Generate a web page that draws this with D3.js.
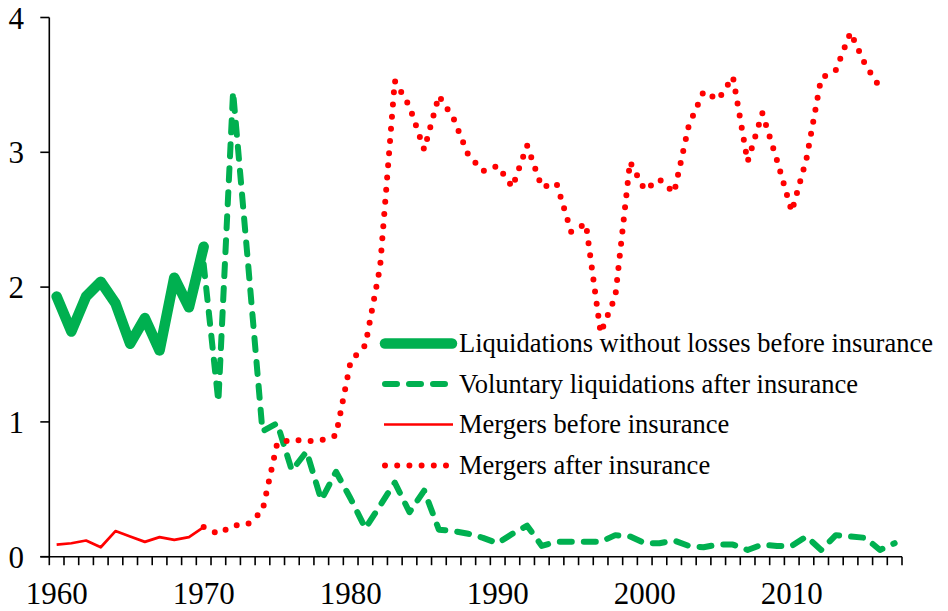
<!DOCTYPE html>
<html>
<head>
<meta charset="utf-8">
<script src="https://cdn.jsdelivr.net/npm/d3@7"></script>
<style>
  html, body { margin: 0; padding: 0; background: #fff; }
  svg { display: block; }
  text { font-family: "Liberation Serif", "Times New Roman", serif; fill: #000; }
</style>
</head>
<body>
<svg id="chart" width="948" height="611"></svg>
<script>
// ---- Data ----
const years = d3.range(1960, 2018); // category axis 1960..2017
const xTickLabels = [1960, 1970, 1980, 1990, 2000, 2010];
const yTickValues = [0, 1, 2, 3, 4];

const liqBeforeYears = d3.range(1960, 1971);
const liqBefore = [1.93, 1.67, 1.93, 2.04, 1.88, 1.58, 1.77, 1.53, 2.07, 1.85, 2.30];

const mergBeforeYears = d3.range(1960, 1971);
const mergBefore = [0.09, 0.10, 0.12, 0.07, 0.19, 0.15, 0.11, 0.145, 0.125, 0.145, 0.22];

const volLiqAfterYears = d3.range(1970, 2018);
const volLiqAfter = [2.17, 1.15, 3.45, 2.20, 0.93, 0.99, 0.64, 0.78, 0.42, 0.63,
                     0.43, 0.21, 0.38, 0.55, 0.33, 0.49, 0.20, 0.19, 0.17, 0.14,
                     0.10, 0.17, 0.23, 0.08, 0.11, 0.11, 0.11, 0.11, 0.16, 0.15,
                     0.10, 0.10, 0.12, 0.08, 0.07, 0.09, 0.09, 0.05, 0.09, 0.08,
                     0.08, 0.15, 0.05, 0.16, 0.15, 0.14, 0.05, 0.10];

const mergAfterYears = d3.range(1970, 2017);
const mergAfter = [0.22, 0.17, 0.23, 0.24, 0.34, 0.84, 0.87, 0.855, 0.865, 0.90,
                   1.45, 1.57, 2.15, 3.53, 3.34, 3.02, 3.42, 3.25, 2.98, 2.86,
                   2.90, 2.74, 3.05, 2.74, 2.77, 2.41, 2.47, 1.66, 1.93, 2.93,
                   2.72, 2.80, 2.70, 3.20, 3.45, 3.39, 3.56, 2.93, 3.29, 2.94,
                   2.56, 2.95, 3.55, 3.61, 3.89, 3.65, 3.48];

const seriesNames = [
  "Liquidations without losses before insurance",
  "Voluntary liquidations after insurance",
  "Mergers before insurance",
  "Mergers after insurance"
];

// ---- Styles ----
const GREEN = "#00B050", RED = "#FF0000";
const styles = [
  { color: GREEN, width: 10.5, dash: null, cap: "round" },
  { color: GREEN, width: 6, dash: "12,12", cap: "round" },
  { color: RED, width: 2.7, dash: null, cap: "butt" },
  { color: RED, width: 6, dash: "0,12.2", cap: "round" }
];

const svg = d3.select("#chart");
const W = 948, H = 611;
svg.append("rect").attr("width", W).attr("height", H).attr("fill", "#fff");

const x = d3.scaleBand().domain(years).range([49.3, 902]).padding(0);
const xc = yr => x(yr) + x.bandwidth() / 2;
const y = d3.scaleLinear().domain([0, 4]).range([556.7, 17.5]);

const line = d3.line().x(d => xc(d[0])).y(d => y(d[1]));

function drawSeries(yrs, vals, st) {
  const pts = yrs.map((yr, i) => [yr, vals[i]]);
  const p = svg.append("path")
    .attr("d", line(pts))
    .attr("fill", "none")
    .attr("stroke", st.color)
    .attr("stroke-width", st.width)
    .attr("stroke-linejoin", "round")
    .attr("stroke-linecap", st.cap);
  if (st.dash) p.attr("stroke-dasharray", st.dash);
}

// ---- Axes ----
const axisG = svg.append("g");
// y axis line
axisG.append("line")
  .attr("x1", x.range()[0]).attr("x2", x.range()[0])
  .attr("y1", y(4)).attr("y2", y(0))
  .attr("stroke", "#000").attr("stroke-width", 1.6);
// y ticks
yTickValues.forEach(v => {
  axisG.append("line")
    .attr("x1", x.range()[0] - 9).attr("x2", x.range()[0])
    .attr("y1", y(v)).attr("y2", y(v))
    .attr("stroke", "#000").attr("stroke-width", 1.6);
  axisG.append("text")
    .attr("x", 24).attr("y", y(v))
    .attr("dy", "0.36em")
    .attr("text-anchor", "end")
    .attr("font-size", 31)
    .text(v);
});
// x axis line
axisG.append("line")
  .attr("x1", x.range()[0] - 9).attr("x2", x.range()[1])
  .attr("y1", y(0)).attr("y2", y(0))
  .attr("stroke", "#000").attr("stroke-width", 1.6);
// x ticks at category boundaries
years.concat([2018]).forEach((yr, i) => {
  const xp = i < years.length ? x(yr) : x.range()[1];
  axisG.append("line")
    .attr("x1", xp).attr("x2", xp)
    .attr("y1", y(0)).attr("y2", y(0) + 8.5)
    .attr("stroke", "#000").attr("stroke-width", 1.6);
});
xTickLabels.forEach(yr => {
  axisG.append("text")
    .attr("x", xc(yr)).attr("y", 604)
    .attr("text-anchor", "middle")
    .attr("font-size", 31)
    .text(yr);
});

// ---- Series ----
drawSeries(liqBeforeYears, liqBefore, styles[0]);
drawSeries(volLiqAfterYears, volLiqAfter, styles[1]);
drawSeries(mergBeforeYears, mergBefore, styles[2]);
drawSeries(mergAfterYears, mergAfter, styles[3]);

// ---- Legend ----
const legend = svg.append("g");
const legY = [343.5, 384, 424.5, 465.5];
seriesNames.forEach((name, i) => {
  const st = styles[i];
  const g = legend.append("g");
  const l = g.append("line")
    .attr("x1", 385).attr("x2", 452)
    .attr("y1", legY[i]).attr("y2", legY[i])
    .attr("stroke", st.color)
    .attr("stroke-width", st.width)
    .attr("stroke-linecap", st.cap);
  if (i === 1) l.attr("x1", 385).attr("x2", 450).attr("stroke-dasharray", st.dash);
  if (i === 2) l.attr("x1", 384).attr("x2", 453);
  if (i === 3) l.attr("x1", 385).attr("x2", 452).attr("stroke-dasharray", st.dash);
  g.append("text")
    .attr("x", 459).attr("y", legY[i])
    .attr("dy", "0.33em")
    .attr("font-size", 26.5)
    .text(name);
});
</script>
</body>
</html>
